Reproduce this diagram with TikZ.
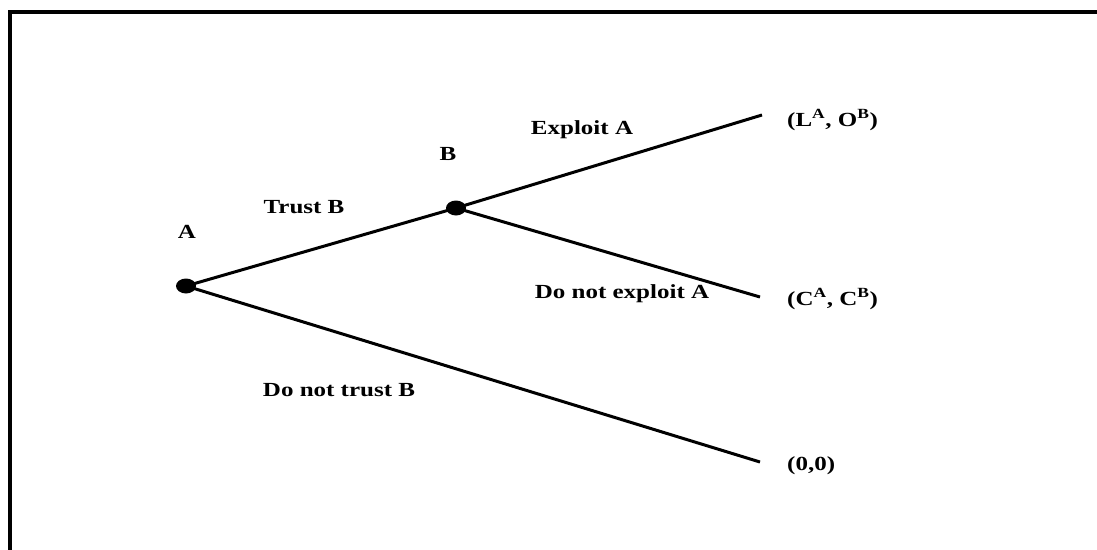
\documentclass[tikz,border=0pt]{standalone}
\usetikzlibrary{shapes.geometric}
\usepackage{graphicx}
\usepackage{fontspec}
\setmainfont{Liberation Serif}
\newcommand\wtx[1]{\scalebox{1.25}[1]{#1}}
\begin{document}
\begin{tikzpicture}[x=1pt,y=-1pt,
  lbl/.style={inner sep=0pt,font=\fontsize{20}{22}\selectfont\bfseries},
  branch/.style={line width=3pt},
  dotnode/.style={ellipse,fill=black,minimum width=20pt,minimum height=15pt,inner sep=0pt}]
\useasboundingbox (0,0) rectangle (1097,549);
\clip (0,0) rectangle (1097,549);
\draw[line width=4pt] (9.5,12) rectangle (1110,570);
% decision nodes
\node[dotnode] (A) at (186,286) {};
\node[dotnode] (B) at (456,208) {};
% end points
\coordinate (e1) at (762,115);
\coordinate (e2) at (760,297);
\coordinate (e3) at (760,462);
\draw[branch] (A.center) -- (B.center);
\draw[branch] (B.center) -- (e1);
\draw[branch] (B.center) -- (e2);
\draw[branch] (A.center) -- (e3);
% labels
\node[lbl] (lA) at (187,232) {\wtx{A}};
\node[lbl] (lB) at (448,154) {\wtx{B}};
\node[lbl] (tB) at (304,207) {\wtx{Trust B}};
\node[lbl] (ntB) at (339,390) {\wtx{Do not trust B}};
\node[lbl] (eA) at (582,130) {\wtx{Exploit A}};
\node[lbl] (neA) at (622,294) {\wtx{Do not exploit A}};
\node[lbl,anchor=west] (p1) at (787,120) {\wtx{(L\textsuperscript{A}, O\textsuperscript{B})}};
\node[lbl,anchor=west] (p2) at (787,299) {\wtx{(C\textsuperscript{A}, C\textsuperscript{B})}};
\node[lbl,anchor=west] (p3) at (787,466) {\wtx{(0,0)}};
\end{tikzpicture}
\end{document}
